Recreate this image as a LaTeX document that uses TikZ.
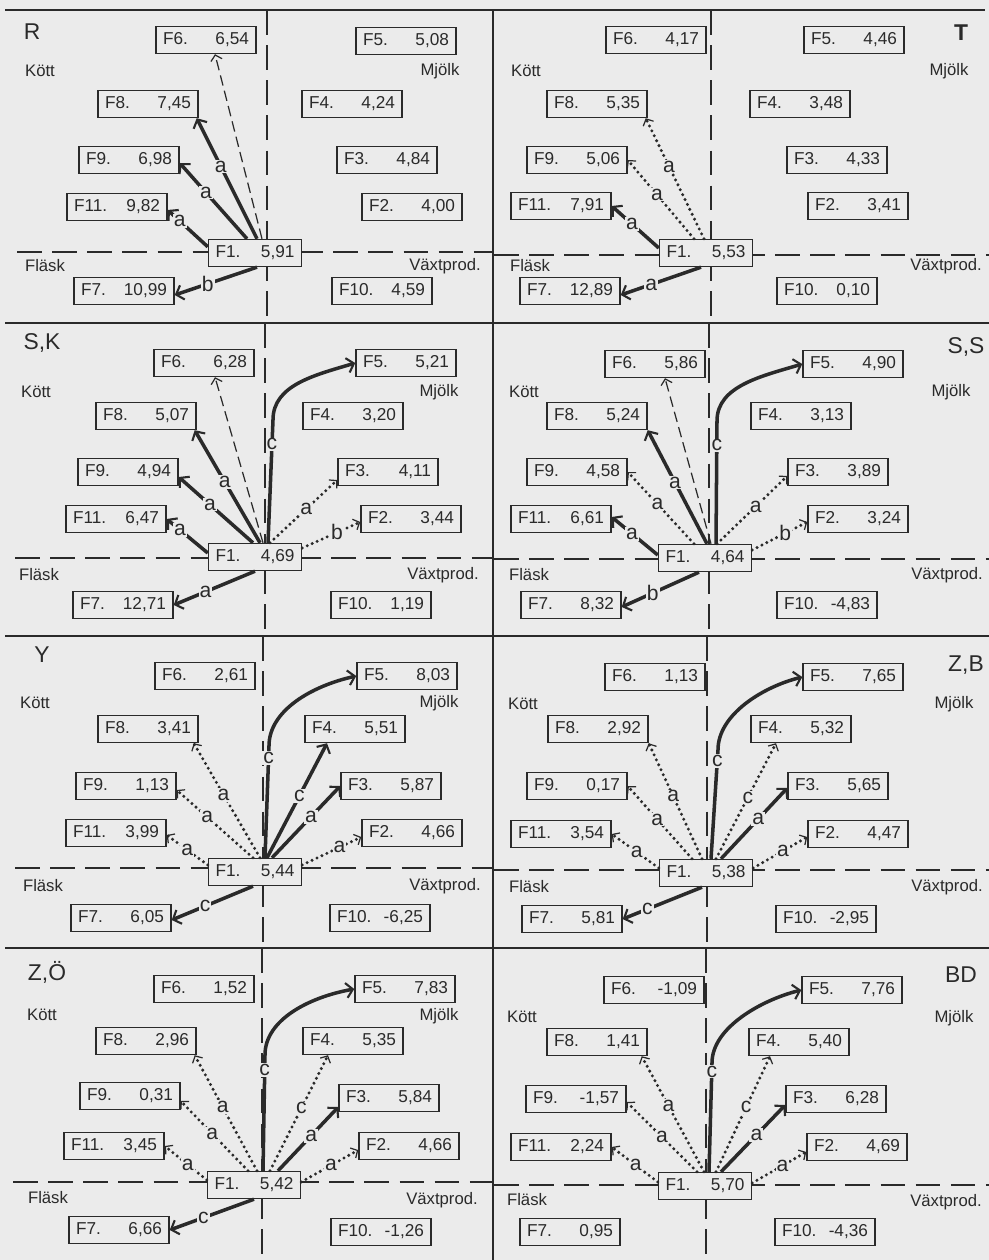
\documentclass[tikz,border=0pt]{standalone}
\usepackage{fontspec}
\setmainfont{Liberation Sans}
\usetikzlibrary{arrows.meta,calc}

\definecolor{paper}{HTML}{EBEBEB}
\definecolor{ink}{HTML}{2A2A2A}

\begin{document}
\begin{tikzpicture}[
    x=0.02cm, y=-0.02cm,
    fbox/.style={draw=ink, fill=paper, line width=0.8pt, text width=1.72cm,
                 minimum height=0.54cm, inner xsep=4pt, inner ysep=1pt,
                 font=\fontsize{9.8}{11}\selectfont, text=ink},
    hub/.style={fbox, text width=1.58cm},
    lbl/.style={fill=paper, inner sep=0.6pt, font=\fontsize{12}{13}\selectfont, text=ink},
    side/.style={font=\fontsize{9.5}{11}\selectfont, text=ink, inner sep=0pt},
    tag/.style={font=\fontsize{13}{14}\selectfont, text=ink, inner sep=0pt},
    frame/.style={draw=ink, line width=1pt},
    axis/.style={draw=ink, line width=0.7pt, dash pattern=on 14pt off 6pt},
    heavy/.style={draw=ink, line width=2pt,
                  -{Straight Barb[length=3.8pt,width=8.5pt,line width=1.2pt 0]}},
    dots/.style={draw=ink, line width=1.9pt, line cap=round, dash pattern=on 0pt off 3.1pt,
                 -{Straight Barb[length=3pt,width=6.5pt,line width=0.7pt 0]}},
    dashy/.style={draw=ink, line width=0.7pt, dash pattern=on 6pt off 3pt,
                  -{Straight Barb[length=3pt,width=6.5pt,line width=0.7pt 0]}},
  ]
  \path[use as bounding box, fill=paper] (0,0) rectangle (989,1260);

  % frame and axes
  \draw[frame] (5,10) -- (985,10);
  \foreach \y in {323,636,948} \draw[frame] (5,\y) -- (989,\y);
  \draw[frame] (493,10) -- (493,1260);
  \foreach \vx/\ya/\yb/\hy/\xa/\xb in {267/10/323/252/17/493, 711/10/323/255/494/989,
      265/323/636/558/15/493, 709/323/636/559/494/989, 263/636/948/868/15/493,
      707/636/948/870/494/989, 262/948/1260/1182/13/493, 706/948/1260/1185/494/989}
    \draw[axis] (\vx,\ya) -- (\vx,\yb) (\xa,\hy) -- (\xb,\hy);

  % --- R ---
  \node[tag] (r-tag) at (32,32) {R};
  \node[side] (r-kott) at (40,71) {Kött};
  \node[side] (r-mjolk) at (440,71) {Mjölk};
  \node[side] (r-flask) at (45,266) {Fläsk};
  \node[side] (r-vaxt) at (445,266) {Växtprod.};
  \foreach \n/\x/\y/\v in {6/206/40/{6,54}, 5/406/41/{5,08}, 8/148/104/{7,45}, 4/352/104/{4,24},
      9/129/160/{6,98}, 3/387/160/{4,84}, 11/117/207/{9,82}, 2/412/207/{4,00},
      7/124/291/{10,99}, 10/382/291/{4,59}}
    \node[fbox] (r\n) at (\x,\y) {F\n.\hfill\v};
  \node[hub] (r1) at (255,253) {F1.\hfill 5,91};
  \draw[heavy] ($(r1.north west)+(0,8)$) -- node[lbl,pos=.7]{a} ($(r11.east)+(0,3)$);
  \draw[heavy] ($(r1.north)+(-8,0)$) -- node[lbl,pos=.61]{a} ($(r9.east)+(0,3)$);
  \draw[heavy] ($(r1.north)+(2,0)$) -- node[lbl,pos=.6]{a} ($(r8.south east)+(-2,0)$);
  \draw[dashy] ($(r1.north)+(7,0)$) -- ($(r6.south)+(9,0)$);
  \draw[heavy] ($(r1.south)+(2,0)$) -- node[lbl,pos=.6]{b} ($(r7.east)+(0,4)$);

  % --- T ---
  \node[tag,font=\fontsize{13}{14}\selectfont\bfseries] (t-tag) at (961,33) {T};
  \node[side] (t-kott) at (526,71) {Kött};
  \node[side] (t-mjolk) at (949,71) {Mjölk};
  \node[side] (t-flask) at (530,266) {Fläsk};
  \node[side] (t-vaxt) at (946,266) {Växtprod.};
  \foreach \n/\x/\y/\v in {6/656/40/{4,17}, 5/854/40/{4,46}, 8/597/104/{5,35}, 4/800/104/{3,48},
      9/577/160/{5,06}, 3/837/160/{4,33}, 11/561/206/{7,91}, 2/858/206/{3,41},
      7/570/291/{12,89}, 10/827/291/{0,10}}
    \node[fbox] (t\n) at (\x,\y) {F\n.\hfill\v};
  \node[hub] (t1) at (706,253) {F1.\hfill 5,53};
  \draw[heavy] ($(t1.west)+(0,-5)$) -- node[lbl,pos=.57]{a} (t11.east);
  \draw[dots] ($(t1.north)+(-12,0)$) -- node[lbl,pos=.56]{a} (t9.east);
  \draw[dots] ($(t1.north)+(-2,0)$) -- node[lbl,pos=.6]{a} ($(t8.south east)+(-2,0)$);
  \draw[heavy] ($(t1.south)+(-5,0)$) -- node[lbl,pos=.62]{a} ($(t7.east)+(0,4)$);

  % --- S,K ---
  \node[tag] (sk-tag) at (42,343) {S,K};
  \node[side] (sk-kott) at (36,392) {Kött};
  \node[side] (sk-mjolk) at (439,392) {Mjölk};
  \node[side] (sk-flask) at (39,575) {Fläsk};
  \node[side] (sk-vaxt) at (443,575) {Växtprod.};
  \foreach \n/\x/\y/\v in {6/204/363/{6,28}, 5/406/363/{5,21}, 8/146/416/{5,07}, 4/353/416/{3,20},
      9/128/472/{4,94}, 3/388/472/{4,11}, 11/116/519/{6,47}, 2/411/519/{3,44},
      7/123/605/{12,71}, 10/381/605/{1,19}}
    \node[fbox] (sk\n) at (\x,\y) {F\n.\hfill\v};
  \node[hub] (sk1) at (255,557) {F1.\hfill 4,69};
  \draw[heavy] ($(sk1.west)+(0,-4)$) -- node[lbl,pos=.68]{a} (sk11.east);
  \draw[heavy] ($(sk1.north)+(-2,0)$) -- node[lbl,pos=.58]{a} ($(sk9.east)+(0,5)$);
  \draw[heavy] ($(sk1.north)+(5,0)$) -- node[lbl,pos=.54]{a} ($(sk8.south east)+(-2,0)$);
  \draw[dashy] ($(sk1.north)+(8,0)$) -- ($(sk6.south)+(11,0)$);
  \draw[heavy] ($(sk1.north)+(13,0)$) -- node[lbl,pos=.8]{c} ++(5,-123)
    .. controls +(0,-35) and +(-40,12) .. (sk5.west);
  \draw[dots] ($(sk1.north)+(15,0)$) -- node[lbl,pos=.54]{a} ($(sk3.west)+(0,8)$);
  \draw[dots] ($(sk1.east)+(0,-9)$) -- node[lbl,pos=.6]{b} ($(sk2.west)+(0,3)$);
  \draw[heavy] (sk1.south) -- node[lbl,pos=.61]{a} (sk7.east);

  % --- S,S ---
  \node[tag] (ss-tag) at (966,347) {S,S};
  \node[side] (ss-kott) at (524,392) {Kött};
  \node[side] (ss-mjolk) at (951,392) {Mjölk};
  \node[side] (ss-flask) at (529,575) {Fläsk};
  \node[side] (ss-vaxt) at (947,575) {Växtprod.};
  \foreach \n/\x/\y/\v in {6/655/364/{5,86}, 5/853/364/{4,90}, 8/597/416/{5,24}, 4/801/416/{3,13},
      9/577/472/{4,58}, 3/838/472/{3,89}, 11/561/519/{6,61}, 2/858/519/{3,24},
      7/571/605/{8,32}, 10/827/605/{-4,83}}
    \node[fbox] (ss\n) at (\x,\y) {F\n.\hfill\v};
  \node[hub] (ss1) at (705,558) {F1.\hfill 4,64};
  \draw[heavy] ($(ss1.west)+(0,-3)$) -- node[lbl,pos=.56]{a} ($(ss11.east)+(0,-2)$);
  \draw[dots] ($(ss1.north)+(-11,0)$) -- node[lbl,pos=.55]{a} (ss9.east);
  \draw[heavy] ($(ss1.north)+(2,0)$) -- node[lbl,pos=.54]{a} (ss8.south east);
  \draw[dashy] ($(ss1.north)+(6,0)$) -- ($(ss6.south)+(10,0)$);
  \draw[heavy] ($(ss1.north)+(11,0)$) -- node[lbl,pos=.8]{c} ++(1,-123)
    .. controls +(0,-35) and +(-40,12) .. (ss5.west);
  \draw[dots] ($(ss1.north)+(12,0)$) -- node[lbl,pos=.55]{a} ($(ss3.west)+(0,4)$);
  \draw[dots] ($(ss1.east)+(0,-8)$) -- node[lbl,pos=.6]{b} ($(ss2.west)+(0,3)$);
  \draw[heavy] ($(ss1.south)+(-6,0)$) -- node[lbl,pos=.6]{b} ($(ss7.east)+(0,2)$);

  % --- Y ---
  \node[tag] (y-tag) at (42,655) {Y};
  \node[side] (y-kott) at (35,703) {Kött};
  \node[side] (y-mjolk) at (439,703) {Mjölk};
  \node[side] (y-flask) at (43,886) {Fläsk};
  \node[side] (y-vaxt) at (445,886) {Växtprod.};
  \foreach \n/\x/\y/\v in {6/205/676/{2,61}, 5/407/676/{8,03}, 8/148/729/{3,41}, 4/355/729/{5,51},
      9/126/786/{1,13}, 3/391/786/{5,87}, 11/116/833/{3,99}, 2/412/833/{4,66},
      7/121/918/{6,05}, 10/380/918/{-6,25}}
    \node[fbox] (y\n) at (\x,\y) {F\n.\hfill\v};
  \node[hub] (y1) at (255,872) {F1.\hfill 5,44};
  \draw[dots] ($(y1.west)+(0,-7)$) -- node[lbl,pos=.5]{a} ($(y11.east)+(0,2)$);
  \draw[dots] ($(y1.north)+(-2,0)$) -- node[lbl,pos=.6]{a} ($(y9.east)+(0,4)$);
  \draw[dots] ($(y1.north)+(5,0)$) -- node[lbl,pos=.55]{a} ($(y8.south east)+(-5,0)$);
  \draw[heavy] ($(y1.north)+(10,0)$) -- node[lbl,pos=.89]{c} ++(4,-112)
    .. controls +(0,-35) and +(-45,10) .. (y5.west);
  \draw[heavy] ($(y1.north)+(12,0)$) -- node[lbl,pos=.54]{c} ($(y4.south)+(-28,0)$);
  \draw[heavy] ($(y1.north)+(17,0)$) -- node[lbl,pos=.57]{a} (y3.west);
  \draw[dots] ($(y1.east)+(0,-7)$) -- node[lbl,pos=.63]{a} ($(y2.west)+(0,4)$);
  \draw[heavy] ($(y1.south)+(-2,0)$) -- node[lbl,pos=.59]{c} ($(y7.east)+(0,2)$);

  % --- Z,B ---
  \node[tag] (zb-tag) at (966,665) {Z,B};
  \node[side] (zb-kott) at (523,704) {Kött};
  \node[side] (zb-mjolk) at (954,704) {Mjölk};
  \node[side] (zb-flask) at (529,887) {Fläsk};
  \node[side] (zb-vaxt) at (947,887) {Växtprod.};
  \foreach \n/\x/\y/\v in {6/655/677/{1,13}, 5/853/677/{7,65}, 8/598/729/{2,92}, 4/801/729/{5,32},
      9/577/786/{0,17}, 3/838/786/{5,65}, 11/561/834/{3,54}, 2/858/834/{4,47},
      7/572/919/{5,81}, 10/826/919/{-2,95}}
    \node[fbox] (zb\n) at (\x,\y) {F\n.\hfill\v};
  \node[hub] (zb1) at (706,873) {F1.\hfill 5,38};
  \draw[dots] ($(zb1.west)+(0,-5)$) -- node[lbl,pos=.47]{a} (zb11.east);
  \draw[dots] ($(zb1.north)+(-14,0)$) -- node[lbl,pos=.54]{a} (zb9.east);
  \draw[dots] ($(zb1.north)+(-4,0)$) -- node[lbl,pos=.54]{a} (zb8.south east);
  \draw[heavy] ($(zb1.north)+(5,0)$) -- node[lbl,pos=.9]{c} ++(7,-109)
    .. controls +(0,-35) and +(-40,10) .. (zb5.west);
  \draw[dots] ($(zb1.north)+(10,0)$) -- node[lbl,pos=.53]{c} ($(zb4.south)+(-25,0)$);
  \draw[heavy] ($(zb1.north)+(15,0)$) -- node[lbl,pos=.56]{a} ($(zb3.west)+(0,2)$);
  \draw[dots] ($(zb1.east)+(0,-5)$) -- node[lbl,pos=.55]{a} ($(zb2.west)+(0,3)$);
  \draw[heavy] ($(zb1.south)+(-4,0)$) -- node[lbl,pos=.69]{c} (zb7.east);

  % --- Z,Ö ---
  \node[tag] (zo-tag) at (47,972) {Z,Ö};
  \node[side] (zo-kott) at (42,1015) {Kött};
  \node[side] (zo-mjolk) at (439,1016) {Mjölk};
  \node[side] (zo-flask) at (48,1198) {Fläsk};
  \node[side] (zo-vaxt) at (442,1200) {Växtprod.};
  \foreach \n/\x/\y/\v in {6/204/989/{1,52}, 5/405/989/{7,83}, 8/146/1041/{2,96}, 4/353/1041/{5,35},
      9/130/1096/{0,31}, 3/389/1098/{5,84}, 11/114/1146/{3,45}, 2/409/1146/{4,66},
      7/119/1230/{6,66}, 10/381/1232/{-1,26}}
    \node[fbox] (zo\n) at (\x,\y) {F\n.\hfill\v};
  \node[hub] (zo1) at (254,1185) {F1.\hfill 5,42};
  \draw[dots] ($(zo1.west)+(0,-5)$) -- node[lbl,pos=.45]{a} (zo11.east);
  \draw[dots] ($(zo1.north)+(-6,0)$) -- node[lbl,pos=.53]{a} ($(zo9.east)+(0,5)$);
  \draw[dots] ($(zo1.north)+(3,0)$) -- node[lbl,pos=.55]{a} ($(zo8.south east)+(-2,0)$);
  \draw[heavy] ($(zo1.north)+(9,0)$) -- node[lbl,pos=.87]{c} ++(2,-116)
    .. controls +(0,-35) and +(-45,8) .. (zo5.west);
  \draw[dots] ($(zo1.north)+(16,0)$) -- node[lbl,pos=.54]{c} ($(zo4.south)+(-25,0)$);
  \draw[heavy] ($(zo1.north)+(24,0)$) -- node[lbl,pos=.55]{a} ($(zo3.west)+(0,9)$);
  \draw[dots] ($(zo1.east)+(0,-3)$) -- node[lbl,pos=.52]{a} ($(zo2.west)+(0,4)$);
  \draw[heavy] (zo1.south) -- node[lbl,pos=.6]{c} (zo7.east);

  % --- BD ---
  \node[tag] (bd-tag) at (961,975) {BD};
  \node[side] (bd-kott) at (522,1017) {Kött};
  \node[side] (bd-mjolk) at (954,1018) {Mjölk};
  \node[side] (bd-flask) at (527,1200) {Fläsk};
  \node[side] (bd-vaxt) at (946,1202) {Växtprod.};
  \foreach \n/\x/\y/\v in {6/654/990/{-1,09}, 5/852/990/{7,76}, 8/597/1042/{1,41}, 4/799/1042/{5,40},
      9/576/1099/{-1,57}, 3/836/1099/{6,28}, 11/561/1147/{2,24}, 2/857/1147/{4,69},
      7/570/1232/{0,95}, 10/825/1232/{-4,36}}
    \node[fbox] (bd\n) at (\x,\y) {F\n.\hfill\v};
  \node[hub] (bd1) at (705,1186) {F1.\hfill 5,70};
  \draw[dots] ($(bd1.west)+(0,-4)$) -- node[lbl,pos=.48]{a} (bd11.east);
  \draw[dots] ($(bd1.north)+(-8,0)$) -- node[lbl,pos=.5]{a} ($(bd9.east)+(0,3)$);
  \draw[dots] ($(bd1.north)+(-1,0)$) -- node[lbl,pos=.57]{a} ($(bd8.south east)+(-6,0)$);
  \draw[heavy] ($(bd1.north)+(4,0)$) -- node[lbl,pos=.92]{c} ++(3,-109)
    .. controls +(0,-35) and +(-40,10) .. (bd5.west);
  \draw[dots] ($(bd1.north)+(11,0)$) -- node[lbl,pos=.56]{c} ($(bd4.south)+(-29,0)$);
  \draw[heavy] ($(bd1.north)+(16,0)$) -- node[lbl,pos=.55]{a} ($(bd3.west)+(0,6)$);
  \draw[dots] ($(bd1.east)+(0,-3)$) -- node[lbl,pos=.56]{a} ($(bd2.west)+(0,5)$);
\end{tikzpicture}
\end{document}
